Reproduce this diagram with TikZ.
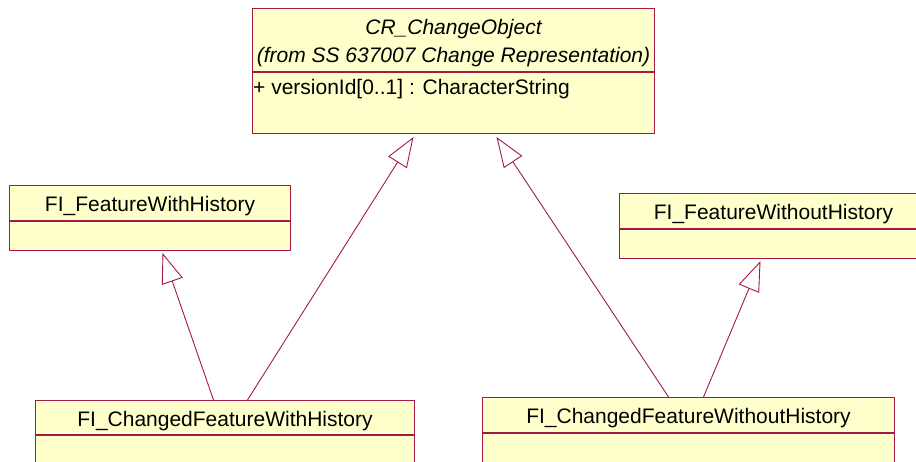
\documentclass[tikz,border=0pt]{standalone}
\usepackage{fontspec}
\setmainfont{Liberation Sans}
\usetikzlibrary{positioning}
\usetikzlibrary{arrows.meta}
\definecolor{umlred}{RGB}{165,25,70}
\definecolor{umlfill}{RGB}{255,255,204}

\begin{document}
\begin{tikzpicture}[x=1pt, y=-1pt,
			cls/.style={rectangle, draw=umlred, line width=1pt, fill=umlfill, inner sep=0pt, text height=17pt, text depth=0pt, font=\fontsize{21}{28}\selectfont},
			attr/.style={rectangle, draw=umlred, line width=1pt, fill=umlfill, inner sep=0pt},
			inherit/.style={draw=umlred, line width=0.9pt, -{Triangle[open, length=30pt, width=22pt]}}
		]
			\path[use as bounding box, clip] (0,0) rectangle (916,462);

			% Classes
			\node[cls, align=center, text height=46pt, minimum width=402pt, minimum height=63pt, anchor=north west, font=\fontsize{21}{28}\selectfont\itshape] (cro) at (252,8) {CR\_ChangeObject\\(from SS 637007 Change Representation)};
			\node[attr, minimum width=402pt, minimum height=61pt, below=0pt of cro] (cro-attr) {};
			\node[anchor=west, inner sep=0pt, font=\fontsize{21}{24}\selectfont] (cro-ver) at ([xshift=1pt, yshift=-17pt]cro-attr.north west) {+ versionId[0..1] : CharacterString};

			\node[cls, minimum width=281pt, minimum height=35pt, anchor=north west] (fwh) at (9,185) {FI\_FeatureWithHistory};
			\node[attr, minimum width=281pt, minimum height=29pt, below=0pt of fwh] (fwh-attr) {};

			\node[cls, minimum width=308pt, minimum height=35pt, anchor=north west] (fwoh) at (619,193) {FI\_FeatureWithoutHistory};
			\node[attr, minimum width=308pt, minimum height=29pt, below=0pt of fwoh] (fwoh-attr) {};

			\node[cls, minimum width=379pt, minimum height=34pt, anchor=north west] (cfwh) at (35,400) {FI\_ChangedFeatureWithHistory};
			\node[attr, minimum width=379pt, minimum height=40pt, below=0pt of cfwh] (cfwh-attr) {};

			\node[cls, minimum width=412pt, minimum height=35pt, anchor=north west] (cfwoh) at (482,397) {FI\_ChangedFeatureWithoutHistory};
			\node[attr, minimum width=412pt, minimum height=40pt, below=0pt of cfwoh] (cfwoh-attr) {};

			% Generalisations
			\draw[inherit] ([xshift=-11.5pt]cfwh.north) -- ([xshift=12.5pt, yshift=-2pt]fwh-attr.south);
			\draw[inherit] ([xshift=22.5pt]cfwh.north) -- ([xshift=-40pt, yshift=-3pt]cro-attr.south);
			\draw[inherit] ([xshift=-20pt]cfwoh.north) -- ([xshift=43pt, yshift=-3pt]cro-attr.south);
			\draw[inherit] ([xshift=15pt]cfwoh.north) -- ([xshift=-13pt, yshift=-2pt]fwoh-attr.south);
		\end{tikzpicture}
\end{document}
